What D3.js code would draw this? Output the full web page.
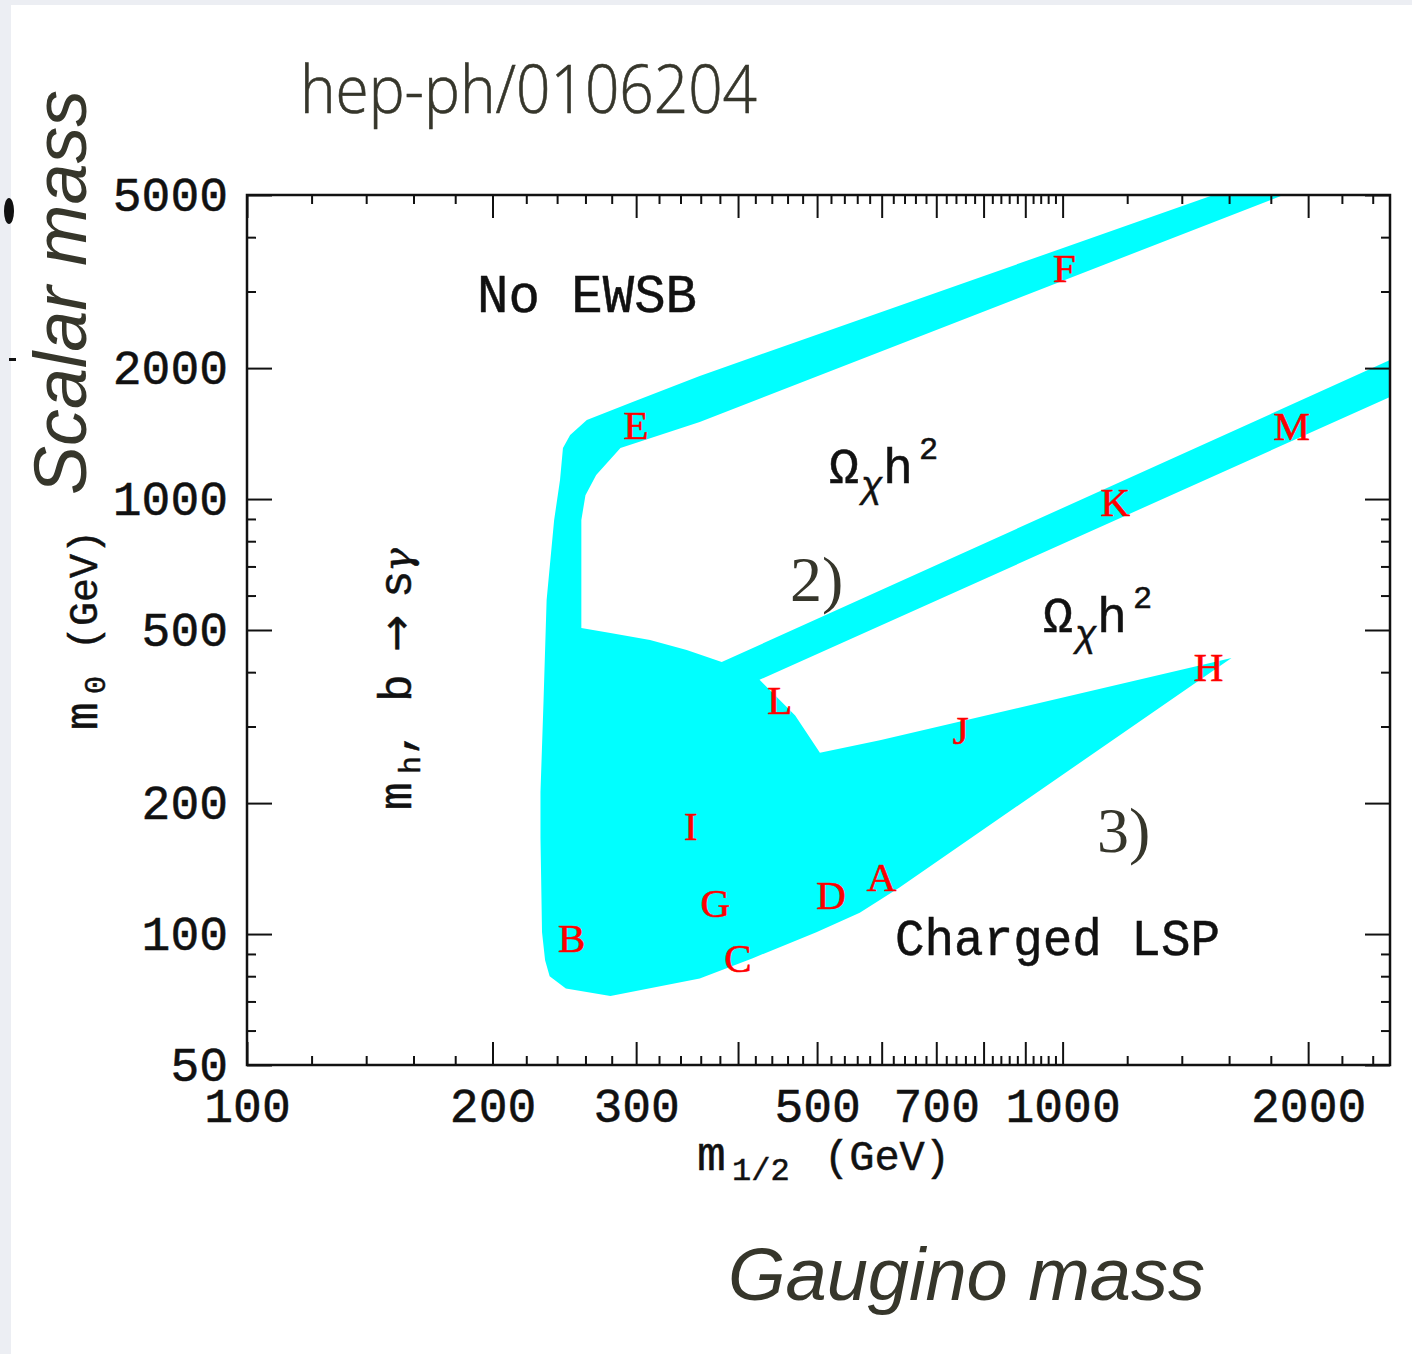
<!DOCTYPE html>
<html lang="en">
<head>
<meta charset="UTF-8">
<title>mSUGRA benchmark points - m0 vs m1/2</title>
<style>
  html, body { margin: 0; padding: 0; background: #eceef3; }
  svg { display: block; }
</style>
</head>
<body>
<script src="https://cdn.jsdelivr.net/npm/d3@7/dist/d3.min.js"></script>
<script>
// ---- data (m1/2, m0 in GeV) ----
const upperBandTop = [[1531, 5000], [359, 1918], [297, 1672], [261, 1520], [249, 1404], [244, 1310]];
const stripLeft = [[242, 1107], [238, 895], [233, 586], [231, 345], [229, 212], [229, 166], [230, 101], [232, 87], [235, 80], [246, 75]];
const lowerEdge = [[279, 72], [359, 79], [417, 88], [499, 101], [564, 112], [631, 128], [1611, 431]];
const tailTop = [[597, 279], [504, 261]];
const lNotch = [[470, 318], [425, 384]];
const kBandBottom = [[2520, 1716]];
const kBandTop = [[2520, 2087], [382, 422]];
const bulkTop = [[346, 450], [312, 474], [279, 492], [257, 505]];
const stripRight = [[257, 895], [260, 1021], [268, 1136], [287, 1310]];
const upperBandBottom = [[359, 1504], [1865, 5000]];

const pointNames = ['A', 'B', 'C', 'D', 'E', 'F', 'G', 'H', 'I', 'J', 'K', 'L', 'M'];
const pointM12 = [600, 250, 400, 520, 300, 1005, 375, 1510, 350, 750, 1160, 450, 1910];
const pointM0 = [135, 98, 88, 123, 1480, 3400, 118, 411, 177, 294, 984, 345, 1472];

const xMajor = [100, 200, 300, 400, 500, 600, 700, 800, 900, 1000, 2000];
const xMinor = d3.range(120, 1000, 20).filter(v => v % 100 !== 0).concat([1200, 1400, 1600, 1800, 2200, 2400]);
const xLabels = [100, 200, 300, 500, 700, 1000, 2000];
const yMajor = [50, 100, 200, 500, 1000, 2000, 5000];
const yMinor = [60, 70, 80, 90, 300, 400, 600, 700, 800, 900, 3000, 4000];
const yLabels = yMajor;

const W = 1412, H = 1354;
const monoFont = "'Liberation Mono', 'Courier New', monospace";
const ink = '#111';
const slideInk = '#36362b';
const weight = 0.5; // extra stroke to thicken the thin courier glyphs

const svg = d3.select('body').append('svg').attr('width', W).attr('height', H);

// slide card
svg.append('rect').attr('x', 11).attr('y', 5).attr('width', W - 11).attr('height', H - 5).attr('fill', '#fff');
// leftovers from the slide edge
svg.append('ellipse').attr('cx', 9).attr('cy', 211).attr('rx', 5).attr('ry', 13).attr('fill', '#111');
svg.append('rect').attr('x', 9).attr('y', 358).attr('width', 7).attr('height', 3).attr('fill', '#111');

const x = d3.scaleLog().domain([100, 2520]).range([247, 1390]);
const y = d3.scaleLog().domain([50, 5000]).range([1065, 195]);

svg.append('clipPath').attr('id', 'plot')
  .append('rect')
  .attr('x', x(100)).attr('y', y(5000))
  .attr('width', x(2520) - x(100)).attr('height', y(50) - y(5000));

// allowed region
const region = [].concat(upperBandTop, stripLeft, lowerEdge, tailTop, lNotch,
  kBandBottom, kBandTop, bulkTop, stripRight, upperBandBottom);
const line = d3.line().x(d => x(d[0])).y(d => y(d[1]));
svg.append('path')
  .attr('d', line(region) + 'Z')
  .attr('fill', '#00ffff')
  .attr('clip-path', 'url(#plot)');

// benchmark letters
svg.append('g').selectAll('text')
  .data(pointNames)
  .join('text')
  .attr('x', (d, i) => x(pointM12[i]))
  .attr('y', (d, i) => y(pointM0[i]))
  .attr('text-anchor', 'middle')
  .attr('dominant-baseline', 'central')
  .attr('font-family', "'Liberation Serif', 'Times New Roman', serif")
  .attr('font-size', 41)
  .attr('fill', '#ff0000')
  .attr('stroke', '#ff0000')
  .attr('stroke-width', 0.6)
  .text(d => d);

// axes
function drawAxis(gen, tx, ty, values, len, labels, pad) {
  const g = svg.append('g')
    .attr('transform', `translate(${tx},${ty})`)
    .call(gen.tickValues(values).tickSize(-len).tickPadding(pad || 0)
      .tickFormat(d => labels && labels.includes(d) ? d : ''));
  g.select('.domain').remove();
  g.selectAll('line').attr('stroke', ink).attr('stroke-width', 2);
  g.attr('font-family', monoFont).attr('font-size', 48);
  g.selectAll('text').attr('fill', ink).attr('stroke', ink).attr('stroke-width', weight);
  return g;
}
const x0 = x(100), x1 = x(2520), yTop = y(5000), yBot = y(50);
drawAxis(d3.axisBottom(x), 0, yBot, xMajor, 23, xLabels, 23);
drawAxis(d3.axisBottom(x), 0, yBot, xMinor, 9);
drawAxis(d3.axisTop(x), 0, yTop, xMajor, 23);
drawAxis(d3.axisTop(x), 0, yTop, xMinor, 9);
drawAxis(d3.axisLeft(y), x0, 0, yMajor, 25, yLabels, 19);
drawAxis(d3.axisLeft(y), x0, 0, yMinor, 9);
drawAxis(d3.axisRight(y), x1, 0, yMajor, 25);
drawAxis(d3.axisRight(y), x1, 0, yMinor, 9);

svg.append('rect')
  .attr('x', x0).attr('y', yTop).attr('width', x1 - x0).attr('height', yBot - yTop)
  .attr('fill', 'none').attr('stroke', ink).attr('stroke-width', 2.5);

// text inside the plot
function monoText(px, py, str, size, len) {
  const t = svg.append('text').attr('x', px).attr('y', py)
    .attr('font-family', monoFont).attr('font-size', size)
    .attr('fill', ink).attr('stroke', ink).attr('stroke-width', weight).text(str);
  if (len) t.attr('textLength', len).attr('lengthAdjust', 'spacingAndGlyphs');
  return t;
}
monoText(477, 312, 'No EWSB', 54, 220);
monoText(895, 955, 'Charged LSP', 52, 325);

function omega(px, py) {
  const t = svg.append('text').attr('y', py)
    .attr('font-family', monoFont).attr('fill', ink).attr('stroke', ink).attr('stroke-width', weight);
  t.append('tspan').attr('x', px).attr('font-size', 50).text('\u03A9');
  t.append('tspan').attr('x', px + 32).attr('dy', 14).attr('font-size', 36).attr('font-style', 'italic').text('\u03C7');
  t.append('tspan').attr('x', px + 54).attr('dy', -14).attr('font-size', 50).text('h');
  t.append('tspan').attr('x', px + 90).attr('dy', -24).attr('font-size', 32).text('2');
}
omega(829, 483);
omega(1043, 632);

// x title: m_{1/2} (GeV)
const xt = svg.append('text').attr('y', 1170)
  .attr('font-family', monoFont).attr('fill', ink).attr('stroke', ink).attr('stroke-width', weight);
xt.append('tspan').attr('x', 697).attr('font-size', 48).text('m');
xt.append('tspan').attr('x', 732).attr('dy', 10).attr('font-size', 32).text('1/2');
xt.append('tspan').attr('x', 824).attr('dy', -10).attr('font-size', 42).text('(GeV)');

// y title: m_0 (GeV)
const yt = svg.append('text').attr('transform', 'translate(97,730) rotate(-90)')
  .attr('font-family', monoFont).attr('fill', ink).attr('stroke', ink).attr('stroke-width', weight);
yt.append('tspan').attr('x', 0).attr('font-size', 46).text('m');
yt.append('tspan').attr('x', 36).attr('dy', 8).attr('font-size', 30).text('0');
yt.append('tspan').attr('x', 80).attr('dy', -8).attr('font-size', 40).text('(GeV)');

// m_h, b -> s gamma
const mt = svg.append('text').attr('transform', 'translate(411,810) rotate(-90)')
  .attr('font-family', monoFont).attr('fill', ink).attr('stroke', ink).attr('stroke-width', weight);
mt.append('tspan').attr('x', 0).attr('font-size', 46).text('m');
mt.append('tspan').attr('x', 36).attr('dy', 9).attr('font-size', 30).text('h');
mt.append('tspan').attr('x', 54).attr('dy', -9).attr('font-size', 44).text(',');
mt.append('tspan').attr('x', 108).attr('font-size', 46).text('b');
mt.append('tspan').attr('x', 158).attr('font-family', "'DejaVu Sans', sans-serif").attr('font-size', 44).text('\u2192');
mt.append('tspan').attr('x', 212).attr('font-size', 46).text('s');
mt.append('tspan').attr('x', 238).attr('font-family', "'DejaVu Serif', serif").attr('font-size', 40).attr('font-style', 'italic').text('\u03B3');

// slide annotations
const serif = "'Liberation Serif', 'Times New Roman', serif";
svg.append('text').attr('x', 790).attr('y', 601).attr('font-family', serif).attr('font-size', 64)
  .attr('fill', slideInk).text('2)');
svg.append('text').attr('x', 1097).attr('y', 852).attr('font-family', serif).attr('font-size', 64)
  .attr('fill', slideInk).text('3)');

svg.append('text').attr('x', 300).attr('y', 113)
  .attr('font-family', "'Open Sans', 'Noto Sans', sans-serif").attr('font-weight', 300)
  .attr('font-size', 66).attr('fill', slideInk)
  .attr('stroke', slideInk).attr('stroke-width', 0.6)
  .attr('textLength', 457).attr('lengthAdjust', 'spacingAndGlyphs')
  .text('hep-ph/0106204');

svg.append('text').attr('transform', 'translate(86,495) rotate(-90)')
  .attr('font-family', "'Liberation Sans', Arial, sans-serif").attr('font-style', 'italic')
  .attr('font-size', 74).attr('fill', slideInk)
  .attr('textLength', 405).attr('lengthAdjust', 'spacingAndGlyphs')
  .text('Scalar mass');

svg.append('text').attr('x', 728).attr('y', 1300)
  .attr('font-family', "'Liberation Sans', Arial, sans-serif").attr('font-style', 'italic')
  .attr('font-size', 74).attr('fill', slideInk)
  .attr('textLength', 477).attr('lengthAdjust', 'spacingAndGlyphs')
  .text('Gaugino mass');
</script>
</body>
</html>
